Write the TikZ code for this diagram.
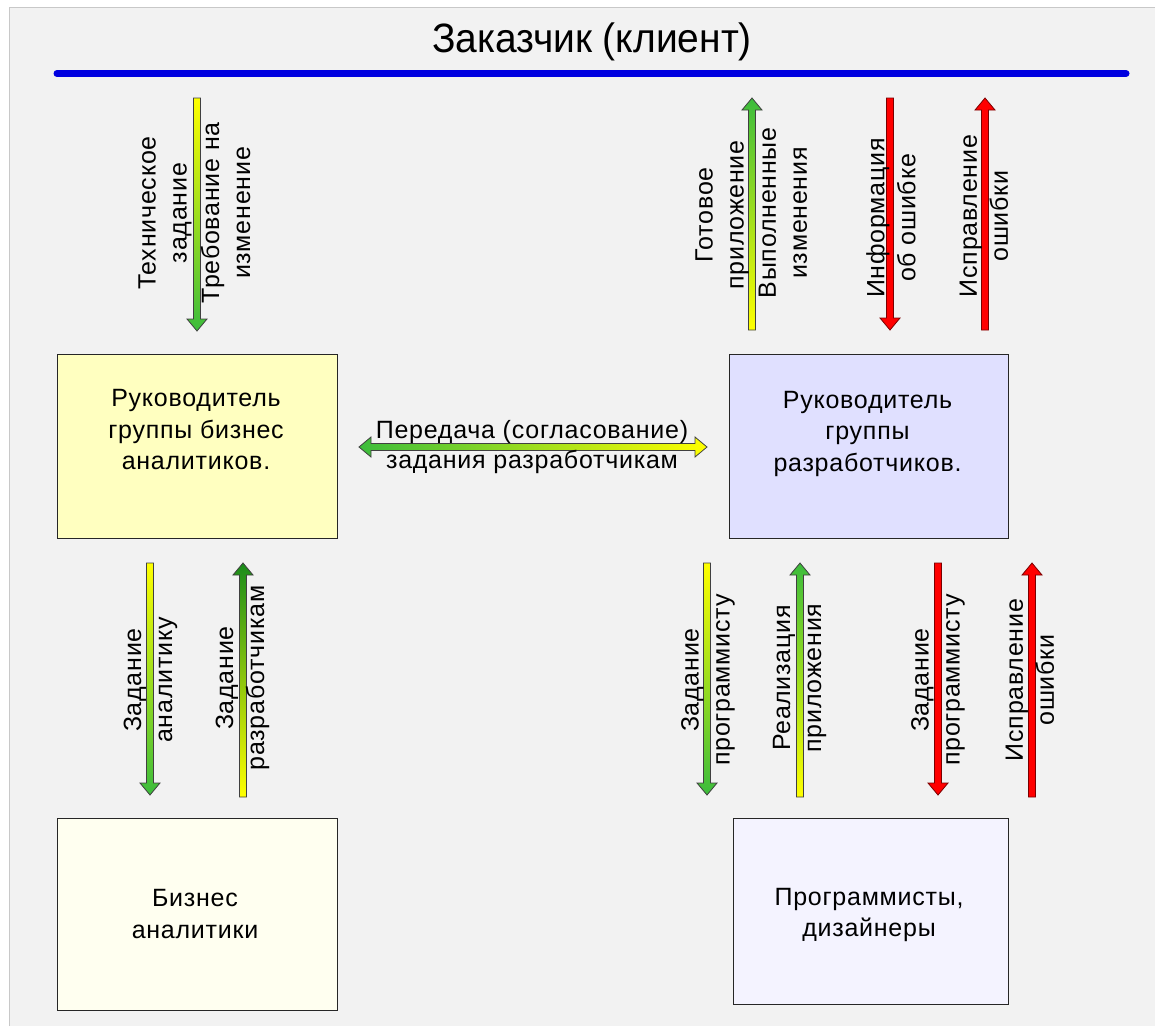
\documentclass[tikz,border=0pt]{standalone}
\usepackage{fontspec}
\setmainfont{Liberation Sans}[LetterSpace=3]
\newfontfamily\titlefont{Liberation Sans}[FakeStretch=0.95]
\definecolor{bggray}{HTML}{F2F2F2}
\definecolor{bgedge}{HTML}{C8C8C8}
\definecolor{titleblue}{HTML}{0000E0}
\definecolor{boxA}{HTML}{FFFFC0}
\definecolor{boxB}{HTML}{E0E0FF}
\definecolor{boxC}{HTML}{FFFFF0}
\definecolor{boxD}{HTML}{F4F3FF}
\definecolor{ayel}{HTML}{FFFF00}
\definecolor{agrn}{HTML}{3CBC3C}
\definecolor{adkgrn}{HTML}{1A8C1A}
\definecolor{ared}{HTML}{FF0000}
\definecolor{aredline}{HTML}{7A0000}
\definecolor{outline}{HTML}{404040}
\newcommand{\arrDown}[4]{% x, y top, y tip, style
  \path[arrowshape,#4] (#1-3.5,#2) -- (#1+3.5,#2) -- (#1+3.5,#3-12) -- (#1+10,#3-12) -- (#1,#3) -- (#1-10,#3-12) -- (#1-3.5,#3-12) -- cycle;}
\newcommand{\arrUp}[4]{% x, y tip, y bottom, style
  \path[arrowshape,#4] (#1-3.5,#3) -- (#1+3.5,#3) -- (#1+3.5,#2+12) -- (#1+10,#2+12) -- (#1,#2) -- (#1-10,#2+12) -- (#1-3.5,#2+12) -- cycle;}
\begin{document}
\begin{tikzpicture}[x=1pt,y=-1pt,
  every node/.style={font=\fontsize{25}{31}\selectfont, inner sep=0pt},
  boxshape/.style={draw=black!85, line width=1pt, rectangle},
  boxtext/.style={align=center, font=\fontsize{25}{31.5}\selectfont},
  vlabel/.style={rotate=90, align=center},
  arrowshape/.style={draw=outline, line width=0.8pt},
  tailtip/.style={top color=ayel, bottom color=agrn},
  tiptail/.style={top color=agrn, bottom color=ayel},
  redarrow/.style={fill=ared, draw=aredline}
]
% canvas
\useasboundingbox (0,0) rectangle (1155,1026);
\fill[white] (0,0) rectangle (1155,1026);
\fill[bggray] (9,7) rectangle (1155,1026);
\draw[bgedge, line width=1pt] (9,1026) -- (9,7) -- (1155,7);

% title and customer line
\node[anchor=base, font=\titlefont\fontsize{41}{44}\selectfont] (title) at (592,52) {Заказчик (клиент)};
\draw[titleblue, line width=7pt, line cap=round] (57,73.5) -- (1126,73.5);

% boxes
\node[boxshape, fill=boxA, minimum width=280pt, minimum height=184pt] (lead1) at (197,446) {};
\node[boxtext] (lead1t) at (196,430) {Руководитель\\группы бизнес\\аналитиков.};
\node[boxshape, fill=boxB, minimum width=279pt, minimum height=184pt] (lead2) at (868.5,446) {};
\node[boxtext] (lead2t) at (867.5,433.5) {Руководитель\\группы\\разработчиков.};
\node[boxshape, fill=boxC, minimum width=280pt, minimum height=192pt] (ba) at (197,914) {};
\node[boxtext] (bat) at (195,914) {Бизнес\\аналитики};
\node[boxshape, fill=boxD, minimum width=275pt, minimum height=186pt] (dev) at (870.5,911) {};
\node[boxtext] (devt) at (869,915) {Программисты,\\дизайнеры};

% top arrows
\arrDown{197}{98}{331}{tailtip}
\node[vlabel] (l1) at (165,213) {Техническое\\задание};
\node[vlabel] (l2) at (225.5,213) {Требование на\\изменение};

\arrUp{752}{98}{330}{tiptail}
\node[vlabel] (l3) at (722,215) {Готовое\\приложение};
\node[vlabel] (l4) at (783,213) {Выполненные\\изменения};

\arrDown{890}{98}{330}{redarrow}
\node[vlabel] (l5) at (891,218) {Информация\\об ошибке};

\arrUp{985}{98}{330}{redarrow}
\node[vlabel] (l6) at (984,216) {Исправление\\ошибки};

% horizontal double arrow
\path[arrowshape, left color=agrn, right color=ayel]
  (359,447) -- (371,437) -- (371,443.5) -- (695,443.5) -- (695,437) -- (707,447)
  -- (695,457) -- (695,450.5) -- (371,450.5) -- (371,457) -- cycle;
\node[align=center, font=\fontsize{25}{30}\selectfont] (hl) at (532,447) {Передача (согласование)\\задания разработчикам};

% bottom left arrows
\arrDown{150}{563}{795}{tailtip}
\node[vlabel] (l7) at (150.5,680) {Задание\\аналитику};
\arrUp{243}{563}{797}{top color=adkgrn, bottom color=ayel}
\node[vlabel] (l8) at (242.5,678) {Задание\\разработчикам};

% bottom right arrows
\arrDown{707}{563}{795}{tailtip}
\node[vlabel] (l9) at (708,680) {Задание\\программисту};
\arrUp{800}{563}{797}{tiptail}
\node[vlabel] (l10) at (799.5,678) {Реализация\\приложения};
\arrDown{938}{563}{795}{redarrow}
\node[vlabel] (l11) at (938,680) {Задание\\программисту};
\arrUp{1032}{563}{797}{redarrow}
\node[vlabel] (l12) at (1030,680) {Исправление\\ошибки};
\end{tikzpicture}
\end{document}
